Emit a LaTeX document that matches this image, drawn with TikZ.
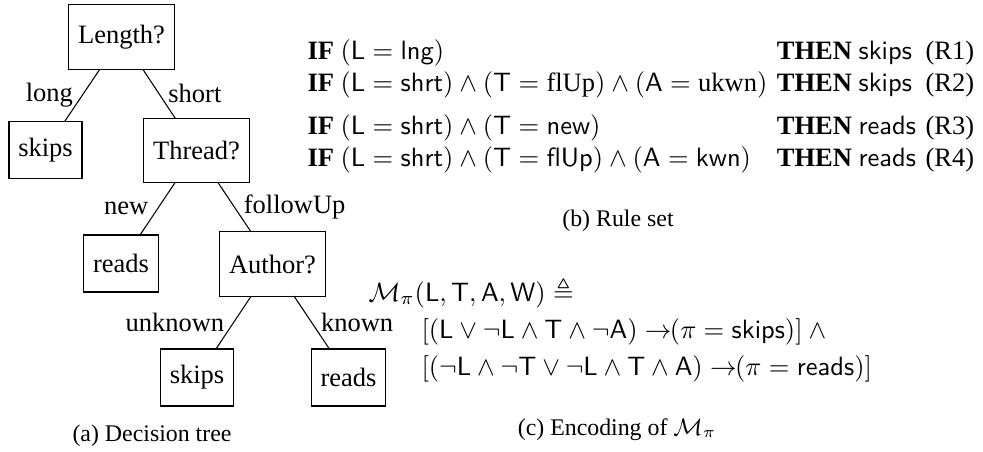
\documentclass[tikz,border=0pt]{standalone}
\usepackage{amsmath,amssymb}
\usepackage{fontspec}
\setmainfont{Liberation Serif}
\usetikzlibrary{matrix}

\begin{document}
\begin{tikzpicture}[x=0.3774pt, y=-0.3774pt,
		TestStyle/.style={draw, inner xsep=3.5pt, minimum height=24.2pt, outer sep=0pt},
		LeafStyle/.style={draw, inner xsep=3.5pt, minimum height=21.5pt, outer sep=0pt},
		FormulaStyle/.style={anchor=base west, inner sep=0pt},
		CaptionStyle/.style={anchor=base, inner sep=0pt, font=\small}]
		\useasboundingbox (0,0) rectangle (983,451);
		\node[TestStyle] (length) at (121.5,37) {Length?};
		\node[LeafStyle] (skipsL) at (45.5,150) {skips};
		\node[TestStyle] (thread) at (196.5,150.5) {Thread?};
		\node[LeafStyle] (readsN) at (121,263.5) {reads};
		\node[TestStyle] (author) at (272.5,264) {Author?};
		\node[LeafStyle] (skipsU) at (197,377.5) {skips};
		\node[LeafStyle] (readsK) at (348.5,377.5) {reads};
		\draw (length) -- node[midway, left] {long} (skipsL);
		\draw (length) -- node[midway, right] {short} (thread);
		\draw (thread) -- node[midway, left] {new} (readsN);
		\draw (thread) -- node[midway, right] {followUp} (author);
		\draw (author) -- node[midway, left] {unknown} (skipsU);
		\draw (author) -- node[midway, right] {known} (readsK);
		\node[CaptionStyle] (treeCap) at (152,441) {(a) Decision tree};
		\matrix (rules) [matrix of nodes, ampersand replacement=\&, anchor=north west, inner sep=0pt,
			column sep=3.6pt, row sep=2.07pt, nodes={inner sep=0pt, text height=7.5pt, text depth=2.5pt},
			column 1/.style={anchor=base west}, column 2/.style={anchor=base west},
			column 3/.style={anchor=base east}] at (307,39) {%
			\textbf{IF} $(\mathsf{L} = \mathsf{lng})$ \& \textbf{THEN} \textsf{skips} \& (R1)\\
			\textbf{IF} $(\mathsf{L} = \mathsf{shrt}) \wedge (\mathsf{T} = \mathrm{flUp}) \wedge (\mathsf{A} = \mathrm{ukwn})$ \& \textbf{THEN} \textsf{skips} \& (R2)\\[4.2pt]
			\textbf{IF} $(\mathsf{L} = \mathsf{shrt}) \wedge (\mathsf{T} = \mathsf{new})$ \& \textbf{THEN} \textsf{reads} \& (R3)\\
			\textbf{IF} $(\mathsf{L} = \mathsf{shrt}) \wedge (\mathsf{T} = \mathsf{flUp}) \wedge (\mathsf{A} = \mathsf{kwn})$ \& \textbf{THEN} \textsf{reads} \& (R4)\\
		};
		\node[CaptionStyle] (rulesCap) at (618,226) {(b) Rule set};
		\node[FormulaStyle] (encHead) at (368,301) {$\mathcal{M}_\pi(\mathsf{L},\mathsf{T},\mathsf{A},\mathsf{W}) \triangleq$};
		\node[FormulaStyle] (encSkips) at (421,338) {$[(\mathsf{L} \vee \neg\mathsf{L} \wedge \mathsf{T} \wedge \neg\mathsf{A}) \rightarrow\!\!(\pi = \mathsf{skips})] \wedge{}$};
		\node[FormulaStyle] (encReads) at (421,375) {$[(\neg\mathsf{L} \wedge \neg\mathsf{T} \vee \neg\mathsf{L} \wedge \mathsf{T} \wedge \mathsf{A}) \rightarrow\!\!(\pi = \mathsf{reads})]$};
		\node[CaptionStyle] (encCap) at (617,435) {(c) Encoding of $\mathcal{M}_\pi$};
	\end{tikzpicture}
\end{document}
